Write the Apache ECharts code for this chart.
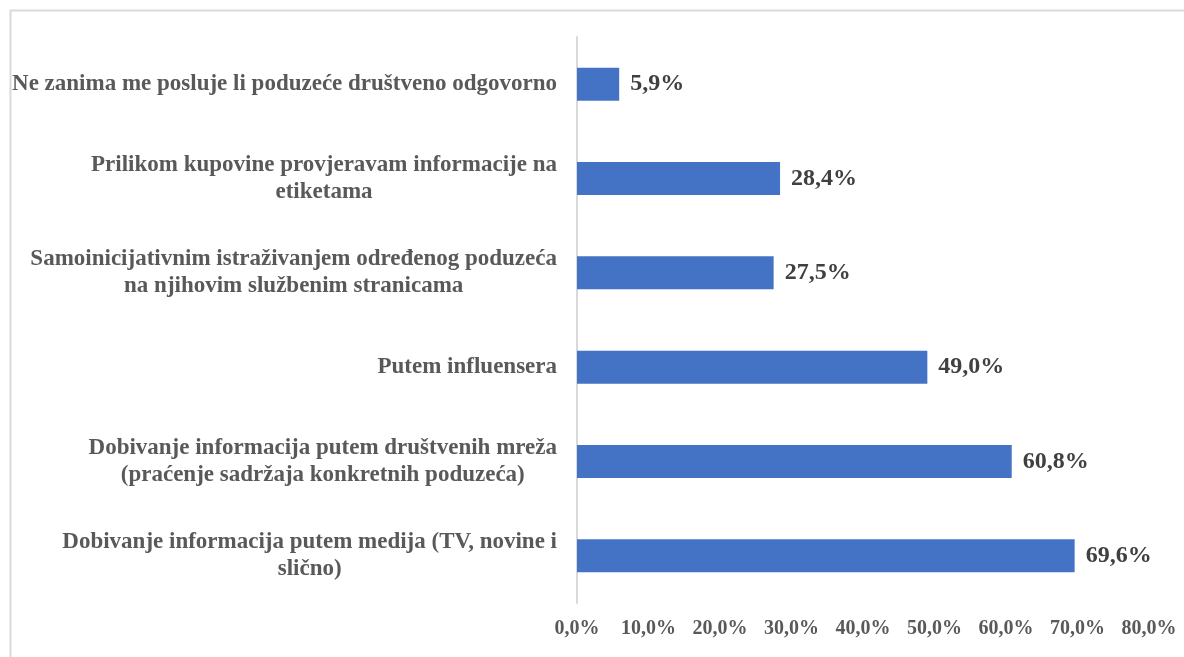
<!DOCTYPE html>
<html>
<head>
<meta charset="utf-8">
<script src="https://cdn.jsdelivr.net/npm/echarts@6/dist/echarts.min.js"></script>
<style>
  html, body { margin: 0; padding: 0; background: #fff; }
  #main { width: 1184px; height: 657px; }
</style>
</head>
<body>
<div id="main"></div>
<script>
var categories = [
  'Ne zanima me posluje li poduzeće društveno odgovorno',
  'Prilikom kupovine provjeravam informacije na\netiketama',
  'Samoinicijativnim istraživanjem određenog poduzeća\nna njihovim službenim stranicama',
  'Putem influensera',
  'Dobivanje informacija putem društvenih mreža\n(praćenje sadržaja konkretnih poduzeća)',
  'Dobivanje informacija putem medija (TV, novine i\nslično)'
];
var values = [5.9, 28.4, 27.5, 49.0, 60.8, 69.6];

var serif = '"Liberation Serif", "Times New Roman", serif';

function pct(v) {
  return v.toFixed(1).replace('.', ',') + '%';
}

var chartDom = document.getElementById('main');
var myChart = echarts.init(chartDom);
var option;

option = {
  animation: false,
  graphic: [
    {
      type: 'rect',
      left: 8,
      top: 8,
      shape: { width: 1200, height: 700 },
      style: { fill: 'none', stroke: '#d9d9d9', lineWidth: 2 }
    }
  ],
  grid: {
    left: 577,
    right: 35,
    top: 37,
    bottom: 54
  },
  xAxis: {
    type: 'value',
    min: 0,
    max: 80,
    interval: 10,
    splitLine: { show: false },
    axisLine: { show: false },
    axisTick: { show: false },
    axisLabel: {
      margin: 16,
      formatter: function (v) { return pct(v); },
      color: '#595959',
      fontFamily: serif,
      fontWeight: 'bold',
      fontSize: 20
    }
  },
  yAxis: {
    type: 'category',
    inverse: true,
    data: categories,
    axisLine: { show: true, lineStyle: { color: '#d9d9d9', width: 2 } },
    axisTick: { show: false },
    axisLabel: {
      margin: 20,
      formatter: function (v) {
        return v.split('\n').map(function (s) { return '{c|' + s + '}'; }).join('\n');
      },
      rich: {
        c: {
          align: 'center',
          color: '#595959',
          fontFamily: serif,
          fontWeight: 'bold',
          fontSize: 23,
          lineHeight: 27
        }
      }
    }
  },
  series: [
    {
      type: 'bar',
      data: values,
      barWidth: 33,
      itemStyle: { color: '#4472c4' },
      label: {
        show: true,
        position: 'right',
        distance: 11,
        formatter: function (p) { return pct(p.value); },
        color: '#404040',
        fontFamily: serif,
        fontWeight: 'bold',
        fontSize: 24
      }
    }
  ]
};

option && myChart.setOption(option);
</script>
</body>
</html>
